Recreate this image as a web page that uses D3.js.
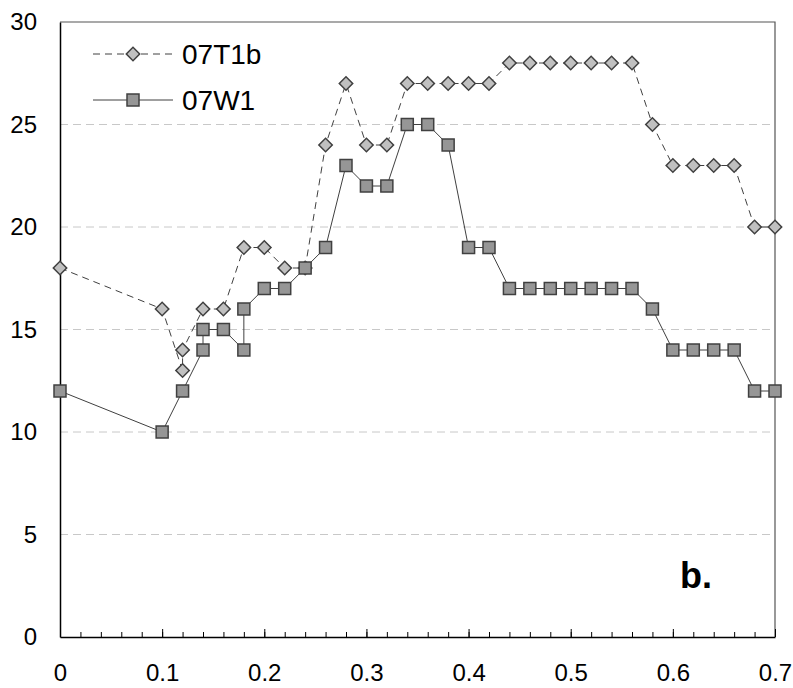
<!DOCTYPE html>
<html>
<head>
<meta charset="utf-8">
<script src="https://cdn.jsdelivr.net/npm/d3@7"></script>
<style>
  body { margin: 0; background: #fff; }
  text { font-family: Arial, "Liberation Sans", sans-serif; }
</style>
</head>
<body>
<script>
// series data (x, value); repeated x values kept in drawing order
var xT1b = [0, 0.1, 0.12, 0.12, 0.14, 0.16, 0.18, 0.2, 0.22, 0.24, 0.26, 0.28, 0.3, 0.32,
    0.34, 0.36, 0.38, 0.4, 0.42, 0.44, 0.46, 0.48, 0.5, 0.52, 0.54, 0.56, 0.58, 0.6, 0.62,
    0.64, 0.66, 0.68, 0.7];
var yT1b = [18, 16, 13, 14, 16, 16, 19, 19, 18, 18, 24, 27, 24, 24,
    27, 27, 27, 27, 27, 28, 28, 28, 28, 28, 28, 28, 25, 23, 23,
    23, 23, 20, 20];

var xW1 = [0, 0.1, 0.12, 0.14, 0.14, 0.16, 0.18, 0.18, 0.2, 0.22, 0.24, 0.26, 0.28, 0.3, 0.32,
    0.34, 0.36, 0.38, 0.4, 0.42, 0.44, 0.46, 0.48, 0.5, 0.52, 0.54, 0.56, 0.58, 0.6, 0.62,
    0.64, 0.66, 0.68, 0.7];
var yW1 = [12, 10, 12, 14, 15, 15, 14, 16, 17, 17, 18, 19, 23, 22, 22,
    25, 25, 24, 19, 19, 17, 17, 17, 17, 17, 17, 17, 16, 14, 14,
    14, 14, 12, 12];

var seriesNames = ["07T1b", "07W1"];
var xTicks = [0, 0.1, 0.2, 0.3, 0.4, 0.5, 0.6, 0.7];
var yTicks = [0, 5, 10, 15, 20, 25, 30];

var margin = { top: 22, right: 18, bottom: 51, left: 60 },
    width = 793 - margin.left - margin.right,
    height = 688 - margin.top - margin.bottom;

var x = d3.scaleLinear().domain([0, 0.7]).range([0, width]);
var y = d3.scaleLinear().domain([0, 30]).range([height, 0]);

var svg = d3.select("body").append("svg")
    .attr("width", 793)
    .attr("height", 688)
    .append("g")
    .attr("transform", "translate(" + margin.left + "," + margin.top + ")");

// gridlines
svg.selectAll(".grid")
    .data(yTicks.filter(function(d) { return d > 0 && d < 30; }))
    .enter().append("line")
    .attr("x1", 0).attr("x2", width)
    .attr("y1", function(d) { return y(d); })
    .attr("y2", function(d) { return y(d); })
    .attr("stroke", "#c8c8c8")
    .attr("stroke-width", 1)
    .attr("stroke-dasharray", "8,5");

// frame top/right
svg.append("path")
    .attr("d", "M0," + y(30) + "H" + width + "V" + height)
    .attr("fill", "none")
    .attr("stroke", "#555")
    .attr("stroke-width", 1.2);

// y axis (labels only)
var yAxis = svg.append("g")
    .call(d3.axisLeft(y).tickValues(yTicks).tickSize(0).tickPadding(23));
yAxis.select(".domain").attr("stroke", "#000").attr("stroke-width", 1.5);
yAxis.selectAll("text").attr("font-size", 24).attr("fill", "#000")
    .attr("font-family", "Arial, 'Liberation Sans', sans-serif");

// x axis: minor ticks inward every 0.02, major every 0.1
var minor = d3.range(0, 36).map(function(i) { return i * 0.02; });
svg.append("g")
    .attr("transform", "translate(0," + height + ")")
    .call(d3.axisTop(x).tickValues(minor).tickSize(5).tickFormat(""))
    .call(function(g) { g.select(".domain").remove(); })
    .selectAll("line").attr("stroke", "#000");

var xAxis = svg.append("g")
    .attr("transform", "translate(0," + height + ")")
    .call(d3.axisBottom(x).tickValues(xTicks).tickSize(0).tickPadding(27)
        .tickFormat(function(d) { return d === 0 ? "0" : d3.format(".1f")(d); }));
xAxis.select(".domain").attr("stroke", "#000").attr("stroke-width", 1.5);
xAxis.selectAll("text").attr("font-size", 24).attr("fill", "#000")
    .attr("font-family", "Arial, 'Liberation Sans', sans-serif");

svg.append("g")
    .attr("transform", "translate(0," + height + ")")
    .call(d3.axisTop(x).tickValues(xTicks).tickSize(8).tickFormat(""))
    .call(function(g) { g.select(".domain").remove(); })
    .selectAll("line").attr("stroke", "#000");

var dataT1b = xT1b.map(function(d, i) { return [d, yT1b[i]]; });
var dataW1 = xW1.map(function(d, i) { return [d, yW1[i]]; });

var line = d3.line()
    .x(function(d) { return x(d[0]); })
    .y(function(d) { return y(d[1]); });

svg.append("path")
    .datum(dataT1b)
    .attr("d", line)
    .attr("fill", "none")
    .attr("stroke", "#404040")
    .attr("stroke-width", 1)
    .attr("stroke-dasharray", "7,5");

svg.append("path")
    .datum(dataW1)
    .attr("d", line)
    .attr("fill", "none")
    .attr("stroke", "#404040")
    .attr("stroke-width", 1);

var diamond = d3.symbol().type(d3.symbolSquare).size(90);

function drawDiamond(sel) {
    sel.append("path")
        .attr("d", diamond)
        .attr("fill", "#c0c0c0")
        .attr("stroke", "#404040")
        .attr("stroke-width", 1.5);
}
function drawSquare(sel) {
    sel.append("rect")
        .attr("x", -6).attr("y", -6)
        .attr("width", 12).attr("height", 12)
        .attr("fill", "#969696")
        .attr("stroke", "#404040")
        .attr("stroke-width", 1.5);
}

svg.selectAll(".dia")
    .data(dataT1b)
    .enter().append("g")
    .attr("class", "dia")
    .attr("transform", function(d) {
        return "translate(" + x(d[0]) + "," + y(d[1]) + ") rotate(45)";
    })
    .call(drawDiamond);

svg.selectAll(".sq")
    .data(dataW1)
    .enter().append("g")
    .attr("class", "sq")
    .attr("transform", function(d) {
        return "translate(" + x(d[0]) + "," + y(d[1]) + ")";
    })
    .call(drawSquare);

// legend
var legend = svg.append("g").attr("transform", "translate(33,32)");
seriesNames.forEach(function(name, i) {
    var row = legend.append("g").attr("transform", "translate(0," + (i * 46) + ")");
    row.append("line")
        .attr("x1", 0).attr("x2", 80)
        .attr("stroke", "#404040")
        .attr("stroke-width", 1)
        .attr("stroke-dasharray", i === 0 ? "7,5" : null);
    var m = row.append("g")
        .attr("transform", "translate(40,0)" + (i === 0 ? " rotate(45)" : ""));
    if (i === 0) drawDiamond(m); else drawSquare(m);
    row.append("text")
        .attr("x", 89)
        .attr("y", 10)
        .attr("font-size", 28)
        .text(name);
});

svg.append("text")
    .attr("x", 620)
    .attr("y", 566)
    .attr("font-size", 36)
    .attr("font-weight", "bold")
    .text("b.");
</script>
</body>
</html>
